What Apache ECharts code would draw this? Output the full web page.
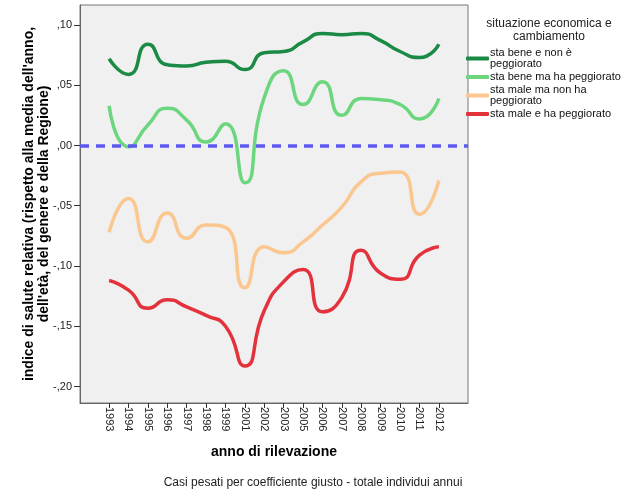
<!DOCTYPE html>
<html>
<head>
<meta charset="utf-8">
<script src="https://cdn.jsdelivr.net/npm/echarts@6/dist/echarts.min.js"></script>
<style>html,body{margin:0;padding:0;background:#fff;}#c{width:626px;height:501px;}</style>
</head>
<body>
<div id="c"></div>
<script>
var years = ['1993','1994','1995','1996','1997','1998','1999','2001','2002','2003','2005','2006','2007','2008','2009','2010','2011','2012'];
var seriesNames = ['sta bene e non è\npeggiorato','sta bene ma ha peggiorato','sta male ma non ha\npeggiorato','sta male e ha peggiorato'];
var beneNonPegg = [0.072,0.059,0.084,0.067,0.066,0.069,0.070,0.063,0.077,0.078,0.086,0.093,0.092,0.093,0.087,0.078,0.073,0.084];
var beneMaPegg = [0.033,-0.001,0.017,0.031,0.021,0.003,0.018,-0.031,0.040,0.062,0.034,0.053,0.025,0.039,0.038,0.034,0.022,0.039];
var maleNonPegg = [-0.072,-0.044,-0.080,-0.056,-0.077,-0.066,-0.068,-0.118,-0.084,-0.089,-0.080,-0.066,-0.051,-0.030,-0.023,-0.022,-0.057,-0.029];
var maleEPegg = [-0.112,-0.120,-0.135,-0.128,-0.134,-0.141,-0.150,-0.183,-0.137,-0.113,-0.103,-0.138,-0.126,-0.087,-0.106,-0.111,-0.091,-0.084];
var yTicks = [-0.20,-0.15,-0.10,-0.05,0,0.05,0.10];

var colors = ['#1b8a45','#6bd67e','#fbc78f','#e3323b'];
var allVals = [beneNonPegg, beneMaPegg, maleNonPegg, maleEPegg];
var FONT = 'Arial, "Liberation Sans", sans-serif';

function fmtY(v){
  var n = Math.round(Math.abs(v)*100);
  var s = (n < 10 ? '0' : '') + n;
  return (v < -1e-9 ? '-' : '') + ',' + s;
}
var xIdx = years.map(function(y,i){return i;});

var series = allVals.map(function(vals, k){
  var s = {
    name: seriesNames[k],
    type: 'line',
    smooth: 0.6,
    symbol: 'none',
    data: vals.map(function(v,i){return [i,v];}),
    lineStyle: {color: colors[k], width: 3.5},
    itemStyle: {color: colors[k]},
    z: 2
  };
  if (k === 0) {
    s.markLine = {
      silent: true,
      symbol: 'none',
      label: {show: false},
      lineStyle: {color: '#5a5af0', type: [9,7], width: 3.5},
      data: [{yAxis: 0}],
      z: 3
    };
  }
  return s;
});

var chart = echarts.init(document.getElementById('c'));
chart.setOption({
  animation: false,
  textStyle: {fontFamily: FONT},
  title: {
    text: 'situazione economica e\ncambiamento',
    left: 544, top: 12, textAlign: 'center',
    textStyle: {fontSize: 12, fontWeight: 'normal', color: '#222', lineHeight: 13, fontFamily: FONT}
  },
  legend: {
    orient: 'vertical',
    left: 466, top: 47.5,
    icon: 'roundRect',
    itemWidth: 23, itemHeight: 4, itemGap: 2,
    padding: 0,
    textStyle: {fontSize: 11, lineHeight: 11, color: '#111', fontFamily: FONT, padding: [0,0,0,-4]},
    data: seriesNames
  },
  grid: {left: 80, top: 5, right: 158, bottom: 98, show: true, backgroundColor: '#f0f0f0', borderColor: '#777', borderWidth: 1},
  xAxis: {
    type: 'value', min: -1.5, max: 18.5,
    name: 'anno di rilevazione', nameLocation: 'middle', nameGap: 42, nameMoveOverlap: false,
    nameTextStyle: {fontSize: 14, fontWeight: 'bold', color: '#000', fontFamily: FONT},
    axisLine: {show: true, onZero: false, lineStyle: {color: '#666'}},
    splitLine: {show: false},
    axisTick: {show: true, length: 5, customValues: xIdx, lineStyle: {color: '#333'}},
    axisLabel: {rotate: -90, margin: 4, fontSize: 11, color: '#222', customValues: xIdx,
      formatter: function(v){ return years[Math.round(v)] || ''; }}
  },
  yAxis: {
    type: 'value', min: -0.2137, max: 0.1166,
    name: "indice di salute relativa (rispetto alla media dell'anno,\ndell'età, del genere e della Regione)",
    nameLocation: 'middle', nameGap: 28, nameRotate: 90, nameMoveOverlap: false,
    nameTextStyle: {fontSize: 14, fontWeight: 'bold', color: '#000', lineHeight: 15, fontFamily: FONT},
    axisLine: {show: true, onZero: false, lineStyle: {color: '#666'}},
    splitLine: {show: false},
    axisTick: {show: true, length: 6, customValues: yTicks, lineStyle: {color: '#333'}},
    axisLabel: {margin: 8, fontSize: 11, color: '#222', customValues: yTicks, formatter: fmtY}
  },
  graphic: [{
    type: 'text', left: 'center', top: 477,
    style: {text: 'Casi pesati per coefficiente giusto - totale individui annui', fontSize: 12, fill: '#222', fontFamily: FONT}
  }],
  series: series
});
</script>
</body>
</html>
